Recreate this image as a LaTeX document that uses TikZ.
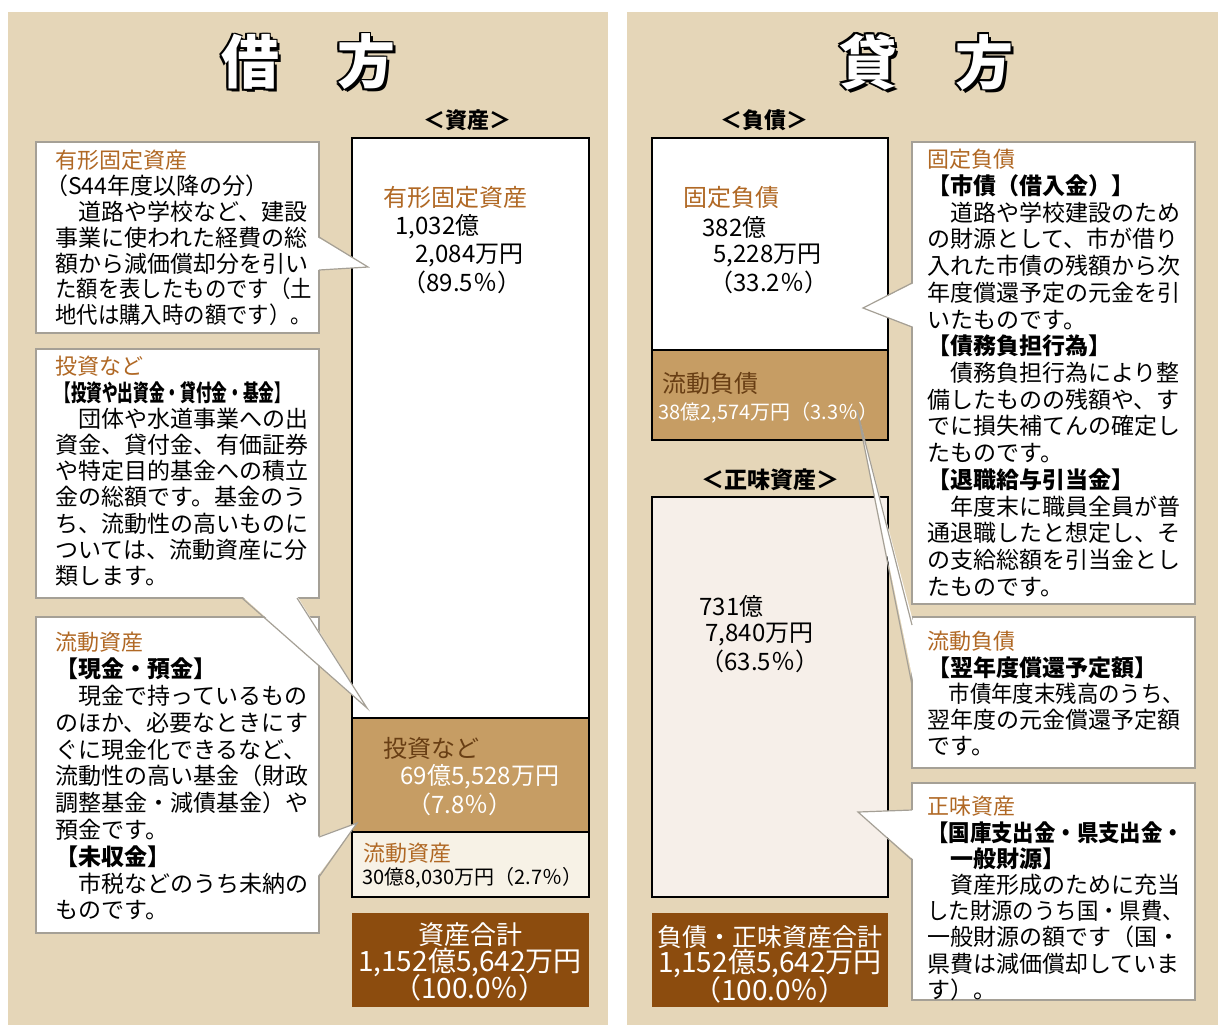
\documentclass[tikz,border=0pt]{standalone}
\usepackage{fontspec}
\setmainfont{Noto Sans CJK JP}
\usepackage{graphicx}
\usetikzlibrary{fit,calc}

\definecolor{panelbeige}{RGB}{229,214,184}
\definecolor{tanfill}{RGB}{198,157,100}
\definecolor{totalbrown}{RGB}{140,76,14}
\definecolor{creamfill}{RGB}{247,242,230}
\definecolor{pinkfill}{RGB}{246,239,233}
\definecolor{headbrown}{RGB}{176,104,36}
\definecolor{darkbrown}{RGB}{104,62,20}
\definecolor{notegray}{RGB}{165,160,150}

\newcommand{\notehead}[1]{{\color{headbrown}\fontsize{11}{13}\selectfont #1}}
\newcommand{\sq}[1]{\scalebox{0.93}[1]{#1}}

\tikzset{
    notebox/.style={draw=notegray, fill=white, line width=0.6pt, inner sep=0pt, outer sep=0pt},
    pointer/.style={draw=notegray, line width=0.6pt},
    barpart/.style={draw=black, line width=1pt, inner sep=0pt, outer sep=0pt},
    sumbox/.style={fill=totalbrown, inner sep=0pt, outer sep=0pt},
    notetext/.style={anchor=north west, inner sep=0pt, align=left, font=\fontsize{11.5}{13.3}\selectfont},
    amount/.style={anchor=west, inner sep=0pt, font=\fontsize{12}{14}\selectfont},
    parthead/.style={anchor=west, inner sep=0pt, text=headbrown, font=\fontsize{12}{14}\selectfont},
    sumtext/.style={inner sep=0pt, text=white, font=\fontsize{14}{16}\selectfont},
    sidetitle/.style={inner sep=0pt, font=\bfseries\fontsize{29}{32}\selectfont},
    grouplabel/.style={inner sep=0pt, font=\bfseries\fontsize{11}{13}\selectfont},
}

\begin{document}
\begin{tikzpicture}[x=0.5pt, y=-0.5pt]
\useasboundingbox (0,0) rectangle (1218,1025);
\fill[white] (0,0) rectangle (1218,1025);
\fill[panelbeige] (8,12) rectangle (608,1025);
\fill[panelbeige] (627,12) rectangle (1218,1025);

% titles
\foreach \dx/\dy [count=\k] in {-1.5/-1.5,1.5/-1.5,-1.5/1.5,1.5/1.5,0/-1.5,-1.5/0,3/3}
{
    \node[sidetitle, text=black] (debitedge\k) at (308+\dx,62+\dy) {借　方};
    \node[sidetitle, text=black] (creditedge\k) at (926+\dx,62+\dy) {貸　方};
}
\node[sidetitle, text=white] (debit) at (308,62) {借　方};
\node[sidetitle, text=white] (credit) at (926,62) {貸　方};

\node[grouplabel] (assetlabel) at (467,120) {＜資産＞};
\node[grouplabel] (liablabel) at (764,120) {＜負債＞};
\node[grouplabel, font=\bfseries\fontsize{11.5}{13}\selectfont] (netlabel) at (770,480) {＜正味資産＞};

% asset bar
\node[barpart, fill=white, fit={(352,138) (589,718)}] (fixedasset) {};
\node[barpart, fill=tanfill, fit={(352,718) (589,832)}] (investment) {};
\node[barpart, fill=creamfill, fit={(352,832) (589,897)}] (currentasset) {};
\node[sumbox, fit={(352,913) (589,1007)}] (assetsum) {};

\node[parthead] (fixedassethead) at (383,197) {有形固定資産};
\node[amount] (fixedassetoku) at (395,227) {1,032億};
\node[amount] (fixedassetman) at (415,256) {2,084万円};
\node[amount] (fixedassetpct) at (402,282) {（89.5％）};
\node[parthead, text=darkbrown] (investhead) at (383,748) {投資など};
\node[amount, text=white] (investman) at (400,777) {69億5,528万円};
\node[amount, text=white] (investpct) at (407,804) {（7.8％）};
\node[parthead, font=\fontsize{11}{13}\selectfont] (currentassethead) at (363,853) {流動資産};
\node[amount, font=\fontsize{10}{12}\selectfont] (currentassetval) at (362,878) {30億8,030万円（2.7％）};
\node[sumtext, font=\fontsize{13}{15}\selectfont] (assetsumhead) at (470,935) {資産合計};
\node[sumtext] (assetsumval) at (470,962) {1,152億5,642万円};
\node[sumtext] (assetsumpct) at (470,988) {（100.0％）};

% liability and net asset bar
\node[barpart, fill=white, fit={(652,138) (888,350)}] (fixedliab) {};
\node[barpart, fill=tanfill, fit={(652,350) (888,440)}] (currentliab) {};
\node[barpart, fill=pinkfill, fit={(652,497) (888,897)}] (netasset) {};
\node[sumbox, fit={(652,913) (888,1007)}] (liabsum) {};

\node[parthead] (fixedliabhead) at (683,197) {固定負債};
\node[amount] (fixedliaboku) at (702,227) {382億};
\node[amount] (fixedliabman) at (713,256) {5,228万円};
\node[amount] (fixedliabpct) at (709,282) {（33.2％）};
\node[parthead, text=darkbrown] (currentliabhead) at (662,383) {流動負債};
\node[amount, text=white, font=\fontsize{10}{12}\selectfont] (currentliabval) at (658,413) {38億2,574万円（3.3％）};
\node[amount] (netassetoku) at (699,606) {731億};
\node[amount] (netassetman) at (705,634) {7,840万円};
\node[amount] (netassetpct) at (700,661) {（63.5％）};
\node[sumtext, font=\fontsize{12.5}{15}\selectfont] (liabsumhead) at (770,937) {負債・正味資産合計};
\node[sumtext] (liabsumval) at (770,963) {1,152億5,642万円};
\node[sumtext] (liabsumpct) at (770,990) {（100.0％）};

% notes, left
\node[notebox, fit={(36,142) (319,333)}] (notefixedasset) {};
\node[notetext, font=\fontsize{11.5}{12.9}\selectfont] (notefixedassettext) at (55,150) {%
\notehead{有形固定資産}\\
\hspace*{-0.45em}（S44年度以降の分）\\
　道路や学校など、建設\\
事業に使われた経費の総\\
額から減価償却分を引い\\
\sq{た額を表したものです（土}\\
\sq{地代は購入時の額です）。}};

\node[notebox, fit={(36,349) (319,598)}] (notefund) {};
\node[notetext, font=\fontsize{11.5}{13.1}\selectfont] (notefundtext) at (55,356) {%
\notehead{投資など}\\
\scalebox{0.68}[1]{\bfseries 【投資や出資金・貸付金・基金】}\\
　団体や水道事業への出\\
資金、貸付金、有価証券\\
や特定目的基金への積立\\
金の総額です。基金のう\\
ち、流動性の高いものに\\
ついては、流動資産に分\\
類します。};

\node[notebox, fit={(36,617) (319,933)}] (notecash) {};
\node[notetext, font=\fontsize{11.5}{13.4}\selectfont] (notecashtext) at (55,632) {%
\notehead{流動資産}\\
{\bfseries 【現金・預金】}\\
　現金で持っているもの\\
のほか、必要なときにす\\
ぐに現金化できるなど、\\
流動性の高い基金（財政\\
調整基金・減債基金）や\\
預金です。\\
{\bfseries 【未収金】}\\
　市税などのうち未納の\\
ものです。};

% notes, right
\node[notebox, fit={(912,142) (1195,604)}] (notebond) {};
\node[notetext, font=\fontsize{11.5}{13.35}\selectfont] (notebondtext) at (927,149) {%
\notehead{固定負債}\\
{\bfseries 【市債（借入金）】}\\
　道路や学校建設のため\\
の財源として、市が借り\\
入れた市債の残額から次\\
年度償還予定の元金を引\\
いたものです。\\
{\bfseries 【債務負担行為】}\\
　債務負担行為により整\\
備したものの残額や、す\\
でに損失補てんの確定し\\
たものです。\\
{\bfseries 【退職給与引当金】}\\
　年度末に職員全員が普\\
通退職したと想定し、そ\\
の支給総額を引当金とし\\
たものです。};

\node[notebox, fit={(912,617) (1195,768)}] (noteredeem) {};
\node[notetext, font=\fontsize{11.5}{13.1}\selectfont] (noteredeemtext) at (927,631) {%
\notehead{流動負債}\\
{\bfseries 【翌年度償還予定額】}\\
\sq{　市債年度末残高のうち、}\\
翌年度の元金償還予定額\\
です。};

\node[notebox, fit={(912,783) (1195,1000)}] (notenet) {};
\node[notetext, font=\fontsize{11.5}{13.1}\selectfont] (notenettext) at (927,796) {%
\notehead{正味資産}\\
\sq{\bfseries 【国庫支出金・県支出金・}\\
{\bfseries 　一般財源】}\\
　資産形成のために充当\\
\sq{した財源のうち国・県費、}\\
一般財源の額です（国・\\
県費は減価償却していま\\
す）。};

% pointers
\coordinate (tipfixedasset) at (368,267);
\fill[white] ($(notefixedasset.north east)+(-2,95)$) -- (tipfixedasset) -- ($(notefixedasset.north east)+(-2,128)$) -- cycle;
\draw[pointer] ($(notefixedasset.north east)+(0,95)$) -- (tipfixedasset) -- ($(notefixedasset.north east)+(0,128)$);

\coordinate (tipfund) at (367,708);
\fill[white] ($(notefund.south west)+(206,-2)$) -- (tipfund) -- ($(notefund.south west)+(261,-2)$) -- cycle;
\draw[pointer] ($(notefund.south west)+(206,0)$) -- (tipfund) -- ($(notefund.south west)+(261,0)$);

\coordinate (tipcash) at (357,823);
\fill[white] ($(notecash.north east)+(-2,220)$) -- (tipcash) -- ($(notecash.north east)+(-2,260)$) -- cycle;
\draw[pointer] ($(notecash.north east)+(0,220)$) -- (tipcash) -- ($(notecash.north east)+(0,260)$);

\coordinate (tipbond) at (863,308);
\fill[white] ($(notebond.north west)+(2,141)$) -- (tipbond) -- ($(notebond.north west)+(2,185)$) -- cycle;
\draw[pointer] ($(notebond.north west)+(0,141)$) -- (tipbond) -- ($(notebond.north west)+(0,185)$);

\coordinate (tipredeem) at (857,410);
\fill[white] ($(noteredeem.north west)+(2,8)$) -- (tipredeem) -- ($(noteredeem.north west)+(2,68)$) -- cycle;
\draw[pointer] ($(noteredeem.north west)+(0,8)$) -- (tipredeem) -- ($(noteredeem.north west)+(0,68)$);

\coordinate (tipnet) at (858,812);
\fill[white] ($(notenet.north west)+(2,27)$) -- (tipnet) -- ($(notenet.north west)+(2,77)$) -- cycle;
\draw[pointer] ($(notenet.north west)+(0,27)$) -- (tipnet) -- ($(notenet.north west)+(0,77)$);
\end{tikzpicture}
\end{document}
